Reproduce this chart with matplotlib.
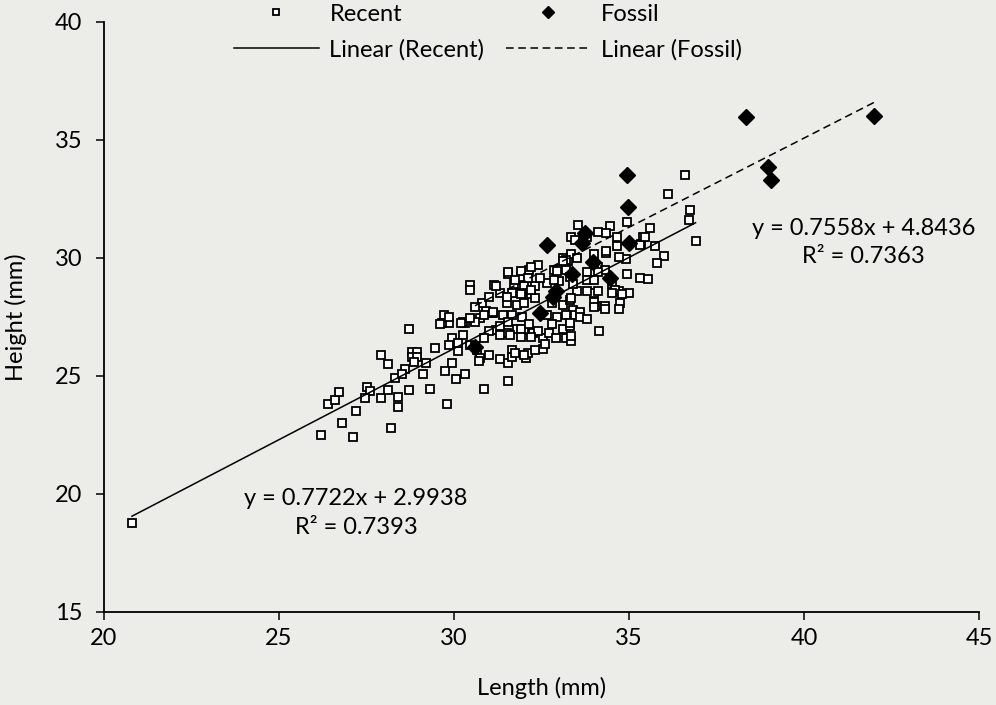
import matplotlib
matplotlib.use("Agg")
import matplotlib.pyplot as plt
import numpy as np

plt.rcParams["font.family"] = ["Lato", "DejaVu Sans"]

# Recent shells (length, height in mm)
recent_length = [
    20.8, 26.2, 27.1, 26.8, 26.4, 26.6, 26.7, 27.2, 27.9, 28.1,
    27.5, 27.6, 27.45, 27.9, 28.1, 28.2, 28.3, 28.4, 28.4, 28.7,
    28.7, 28.8, 28.95, 28.8, 28.95, 28.85, 28.6, 28.5, 29.1, 29.2,
    29.45, 29.3, 29.8, 30.85, 31.55,
    29.7, 29.85, 29.65, 30.3, 29.95, 30.1, 29.95, 29.75, 30.05, 30.3,
    30.25, 30.45, 30.65, 30.75, 30.7, 31.0, 31.3, 31.55, 31.65, 31.65,
    32.05, 32.1, 32.55, 32.55, 32.25, 32.0, 30.75, 31.05, 31.2, 31.5,
    31.8, 30.45, 30.45,
    31.15, 31.55, 31.9, 32.15, 32.4, 31.7, 32.0, 32.3, 31.3, 31.65,
    31.95, 32.2, 31.5, 31.8, 32.0, 32.3, 30.9, 31.1, 31.4, 31.65,
    31.95, 30.25, 30.6, 31.3, 31.55, 31.9, 32.15, 32.4, 32.7, 31.0,
    31.3, 31.6, 31.9, 32.2, 30.1, 29.85, 30.6, 30.85, 31.75, 32.0,
    32.3, 32.6, 32.9, 32.85, 33.05, 33.25, 33.35, 33.1, 32.65, 33.0,
    32.8, 33.1, 33.3, 33.4, 32.65, 32.95, 33.2, 33.45, 32.8, 33.1,
    33.3, 33.2, 33.35,
    36.6, 36.1, 36.75, 36.7, 36.9, 34.95, 35.6, 35.4, 35.75, 36.0,
    35.8, 35.35, 34.95, 35.3, 35.55, 35.0, 34.75, 34.3, 34.05, 34.15,
    34.45, 34.1, 33.55, 33.35, 34.65, 34.35, 34.9, 34.0, 34.5, 34.7,
    34.0, 34.0, 33.6, 33.3, 33.35, 33.8, 33.45, 34.35, 34.65, 34.35,
    34.7, 35.3, 35.45, 34.1, 34.3, 33.5, 34.0, 33.8, 34.1, 33.8,
    34.0, 33.5, 33.8, 34.1, 34.6, 34.8, 34.5, 34.0, 34.3, 34.7,
    33.35, 33.6, 33.8, 33.2, 33.2, 33.3, 33.4,
    31.55, 31.9, 32.2, 31.75, 32.1, 31.2, 31.5, 31.9, 32.2, 32.95,
    33.1, 32.45, 32.85, 29.85, 29.6, 30.2, 30.45, 30.85, 31.1, 30.8,
    31.0, 30.6,
]
recent_height = [
    18.75, 22.5, 22.4, 23.0, 23.8, 24.0, 24.3, 23.5, 25.9, 25.5,
    24.55, 24.35, 24.05, 24.05, 24.4, 22.8, 24.9, 24.1, 23.7, 24.4,
    27.0, 26.0, 26.0, 25.8, 25.8, 25.6, 25.3, 25.1, 25.1, 25.55,
    26.2, 24.45, 23.8, 24.45, 24.8,
    27.6, 27.25, 27.25, 27.25, 26.6, 26.05, 25.55, 25.2, 24.85, 25.1,
    26.75, 26.3, 26.1, 25.75, 25.65, 25.9, 25.7, 25.55, 26.1, 25.8,
    25.75, 25.95, 26.15, 26.6, 26.8, 26.95, 27.45, 27.65, 26.95, 26.8,
    27.0, 28.85, 28.65,
    28.85, 29.3, 29.2, 29.5, 29.7, 28.9, 28.8, 28.8, 28.5, 28.5,
    28.5, 28.45, 28.1, 28.0, 28.1, 28.3, 27.75, 27.65, 27.6, 27.6,
    27.5, 27.3, 27.3, 27.1, 27.3, 27.0, 27.2, 26.9, 26.8, 26.9,
    26.75, 26.75, 26.65, 26.65, 26.4, 26.3, 26.25, 26.6, 25.95, 25.9,
    26.1, 26.35, 26.6, 29.5, 29.55, 29.85, 30.15, 30.0, 28.95, 29.0,
    28.1, 28.0, 28.2, 27.8, 27.6, 27.5, 27.6, 27.6, 27.2, 27.0,
    27.1, 26.6, 26.5,
    33.5, 32.7, 32.05, 31.6, 30.7, 31.5, 31.25, 30.9, 30.5, 30.1,
    29.8, 30.6, 29.3, 29.15, 29.1, 28.5, 28.1, 27.95, 27.95, 26.9,
    31.35, 31.1, 31.4, 30.9, 30.9, 30.2, 29.95, 30.15, 28.9, 28.6,
    28.5, 28.15, 27.7, 27.25, 26.7, 30.9, 30.75, 31.05, 30.5, 30.3,
    30.05, 30.55, 30.9, 29.6, 29.5, 30.0, 29.8, 29.4, 29.4, 29.05,
    29.05, 28.6, 28.6, 28.6, 28.65, 28.45, 28.5, 27.9, 27.85, 27.85,
    28.3, 27.5, 27.4, 29.9, 29.5, 29.2, 28.9,
    29.4, 29.45, 29.6, 29.05, 29.15, 28.8, 28.35, 28.45, 28.65, 29.45,
    29.85, 29.15, 29.05, 27.5, 27.2, 27.25, 27.45, 27.6, 27.7, 28.1,
    28.35, 27.9,
]

# Fossil shells
fossil_length = [32.67, 33.74, 33.65, 35.0, 33.36, 34.46, 32.84, 32.9, 32.46,
                 30.6, 34.94, 34.97, 38.34, 42.0, 38.97, 39.06, 33.96]
fossil_height = [30.55, 31.05, 30.65, 30.62, 29.32, 29.14, 28.36, 28.6, 27.66,
                 26.24, 33.52, 32.16, 35.97, 36.0, 33.86, 33.3, 29.84]

# trendline coefficients as printed on the chart
recent_fit = (0.7722, 2.9938, 0.7393)
fossil_fit = (0.7558, 4.8436, 0.7363)

bg = "#ecece8"
fs = 17
fig = plt.figure(figsize=(9.96, 7.05), dpi=100, facecolor=bg)
ax = fig.add_axes([0.1044, 0.132, 0.8786, 0.837], facecolor=bg)

h_recent, = ax.plot(recent_length, recent_height, linestyle="none", marker="s",
                    markersize=6, markerfacecolor="white", markeredgecolor="black",
                    markeredgewidth=1.3, label="Recent")
h_fossil, = ax.plot(fossil_length, fossil_height, linestyle="none", marker="D",
                    markersize=8.5, markerfacecolor="black", markeredgecolor="black",
                    label="Fossil")

xr = np.array([min(recent_length), max(recent_length)])
h_lr, = ax.plot(xr, recent_fit[0] * xr + recent_fit[1], color="black", linewidth=1.1,
                label="Linear (Recent)")
xf = np.array([min(fossil_length), max(fossil_length)])
h_lf, = ax.plot(xf, fossil_fit[0] * xf + fossil_fit[1], color="black", linewidth=1.1,
                linestyle=(0, (5, 3)), label="Linear (Fossil)")

ax.text(27.2, 19.2, "y = %.4fx + %.4f\nR² = %.4f" % recent_fit, ha="center",
        va="center", fontsize=fs, linespacing=1.45)
ax.text(41.7, 30.65, "y = %.4fx + %.4f\nR² = %.4f" % fossil_fit, ha="center",
        va="center", fontsize=fs, linespacing=1.45, clip_on=False)

ax.set_xlim(20, 45)
ax.set_ylim(15, 40)
ax.set_xticks(range(20, 46, 5))
ax.set_yticks(range(15, 41, 5))
ax.spines["top"].set_visible(False)
ax.spines["right"].set_visible(False)
ax.spines["left"].set_linewidth(1.3)
ax.spines["bottom"].set_linewidth(1.3)
ax.tick_params(direction="out", length=5.5, width=1.1, labelsize=fs)
ax.tick_params(axis="y", pad=10)
ax.tick_params(axis="x", pad=6)
ax.set_xlabel("Length (mm)", fontsize=fs, labelpad=20)
ax.set_ylabel("Height (mm)", fontsize=fs, labelpad=20)

leg = ax.legend([h_recent, h_lr, h_fossil, h_lf],
                ["Recent", "Linear (Recent)", "Fossil", "Linear (Fossil)"],
                ncol=2, loc="center left", bbox_to_anchor=(222 / 996, 1 - 32 / 705),
                bbox_transform=fig.transFigure, frameon=False, borderpad=0,
                fontsize=fs, handlelength=3.6, columnspacing=0.9,
                labelspacing=0.6, handletextpad=0.45)
leg.legend_handles[0].set_markersize(5)
leg.legend_handles[2].set_markersize(6)

fig.savefig("out.png", dpi=100, facecolor=bg)
